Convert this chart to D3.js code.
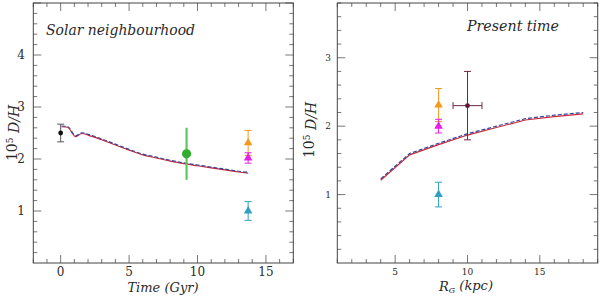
<!DOCTYPE html>
<html>
<head>
<meta charset="utf-8">
<script src="https://cdn.jsdelivr.net/npm/d3@7"></script>
<style>
  body { margin: 0; background: #fff; }
  svg { display: block; }
  text { font-family: "DejaVu Serif", serif; fill: #2a2a2a; }
  .frame { fill: none; stroke: #444; stroke-width: 1; }
  .tick-line { stroke: #777; stroke-width: 1; }
</style>
</head>
<body>
<div id="chart"></div>
<script>
const WIDTH = 600;
const HEIGHT = 296;

// left panel: solar neighbourhood, D/H vs time
const timeModelT = [0.07, 0.5, 1.1, 1.55, 2, 3, 4, 5, 6, 7, 8, 9, 10, 11, 12, 13, 13.7];
const timeModelRed = [2.62, 2.61, 2.43, 2.49, 2.46, 2.37, 2.27, 2.17, 2.08, 2.02, 1.96, 1.91, 1.87, 1.83, 1.79, 1.75, 1.73];
const timeModelBlue = [2.635, 2.625, 2.445, 2.505, 2.475, 2.385, 2.285, 2.185, 2.095, 2.035, 1.975, 1.925, 1.885, 1.845, 1.805, 1.765, 1.745];

const solarObs = [
    { x: 0, y: 2.5, err: 0.17, color: "#111", bar: "#555", shape: "dot", caps: true },
    { x: 9.2, y: 2.1, err: 0.5, color: "#2fae2f", bar: "#5cc85c", shape: "circle", caps: false },
    { x: 13.7, y: 2.31, err: 0.24, color: "#f39a1e", bar: "#f39a1e", shape: "tri", caps: true },
    { x: 13.7, y: 2.02, err: 0.1, color: "#e81ee8", bar: "#e81ee8", shape: "tri", caps: true },
    { x: 13.7, y: 1.0, err: 0.18, color: "#2fa0c4", bar: "#2fa0c4", shape: "tri", caps: true }
];

// right panel: present time, D/H vs galactocentric radius
const radiusModelR = [4, 6, 8, 10, 12, 14, 16, 18];
const radiusModelRed = [1.21, 1.58, 1.73, 1.87, 1.98, 2.09, 2.14, 2.18];
const radiusModelBlue = [1.23, 1.60, 1.75, 1.89, 2.00, 2.11, 2.16, 2.20];

const presentObs = [
    { x: 8, y: 2.31, err: 0.24, color: "#f39a1e", bar: "#f39a1e", shape: "tri", caps: true },
    { x: 8, y: 2.0, err: 0.1, color: "#e81ee8", bar: "#e81ee8", shape: "tri", caps: true },
    { x: 8, y: 1.0, err: 0.18, color: "#2fa0c4", bar: "#2fa0c4", shape: "tri", caps: true },
    { x: 10, y: 2.3, err: 0.5, xerr: 1, color: "#5a1838", bar: "#6a2848", shape: "dot", caps: true }
];

const svg = d3.select("#chart").append("svg")
    .attr("width", WIDTH)
    .attr("height", HEIGHT);

function drawPanel(opt) {

    let x = d3.scaleLinear().domain(opt.xDomain).range([opt.left, opt.right]);
    let y = d3.scaleLinear().domain(opt.yDomain).range([opt.bottom, opt.top]);
    let g = svg.append("g");

    // ticks on all four sides, pointing inwards
    let xMinor = d3.range(Math.ceil(opt.xDomain[0]), opt.xDomain[1] + 0.001, 1);
    let yMinor = d3.range(0.2, opt.yDomain[1] + 0.001, 0.2);
    let isMajorX = v => Math.abs(v % 5) < 1e-6;
    let isMajorY = v => Math.abs(v - Math.round(v)) < 1e-6;

    xMinor.forEach(v => {
        let len = isMajorX(v) ? 8 : 4;
        g.append("line").attr("class", "tick-line")
            .attr("x1", x(v)).attr("x2", x(v))
            .attr("y1", opt.bottom).attr("y2", opt.bottom - len);
        g.append("line").attr("class", "tick-line")
            .attr("x1", x(v)).attr("x2", x(v))
            .attr("y1", opt.top).attr("y2", opt.top + len);
    });

    yMinor.forEach(v => {
        let len = isMajorY(v) ? 8 : 4;
        g.append("line").attr("class", "tick-line")
            .attr("x1", opt.left).attr("x2", opt.left + len)
            .attr("y1", y(v)).attr("y2", y(v));
        g.append("line").attr("class", "tick-line")
            .attr("x1", opt.right).attr("x2", opt.right - len)
            .attr("y1", y(v)).attr("y2", y(v));
    });

    g.append("rect").attr("class", "frame")
        .attr("x", opt.left).attr("y", opt.top)
        .attr("width", opt.right - opt.left)
        .attr("height", opt.bottom - opt.top);

    // tick labels
    g.selectAll(".xlab").data(opt.xLabels).enter().append("text")
        .attr("x", d => x(d))
        .attr("y", opt.xLabelY)
        .attr("text-anchor", "middle")
        .style("font-size", opt.tickFont + "px")
        .text(d => d);

    g.selectAll(".ylab").data(opt.yLabels).enter().append("text")
        .attr("x", opt.yLabelX)
        .attr("y", d => y(d))
        .attr("dy", "0.36em")
        .attr("text-anchor", "end")
        .style("font-size", opt.tickFont + "px")
        .text(d => d);

    // model lines
    let line = d3.line().x(d => x(d[0])).y(d => y(d[1]))
        .curve(opt.curve || d3.curveLinear);

    g.append("path")
        .datum(opt.modelX.map((v, i) => [v, opt.modelRed[i]]))
        .attr("d", line)
        .attr("fill", "none")
        .attr("stroke", "#c8283a")
        .attr("stroke-width", 1.2);

    g.append("path")
        .datum(opt.modelX.map((v, i) => [v, opt.modelBlue[i]]))
        .attr("d", line)
        .attr("fill", "none")
        .attr("stroke", "#34479a")
        .attr("stroke-width", 1.2)
        .attr("stroke-dasharray", "4,2");

    // observations with error bars
    opt.obs.forEach(d => {
        let cx = x(d.x), cy = y(d.y);
        let y0 = y(d.y - d.err), y1 = y(d.y + d.err);
        let o = g.append("g");

        o.append("line")
            .attr("x1", cx).attr("x2", cx).attr("y1", y0).attr("y2", y1)
            .attr("stroke", d.bar)
            .attr("stroke-width", d.shape === "circle" ? 2.2 : 1);

        if (d.caps) {
            [y0, y1].forEach(yy => o.append("line")
                .attr("x1", cx - 3.5).attr("x2", cx + 3.5)
                .attr("y1", yy).attr("y2", yy)
                .attr("stroke", d.bar).attr("stroke-width", 1));
        }

        if (d.xerr) {
            let x0 = x(d.x - d.xerr), x1 = x(d.x + d.xerr);
            o.append("line")
                .attr("x1", x0).attr("x2", x1).attr("y1", cy).attr("y2", cy)
                .attr("stroke", d.bar).attr("stroke-width", 1);
            [x0, x1].forEach(xx => o.append("line")
                .attr("x1", xx).attr("x2", xx)
                .attr("y1", cy - 3.5).attr("y2", cy + 3.5)
                .attr("stroke", d.bar).attr("stroke-width", 1));
        }

        if (d.shape === "tri") {
            o.append("path")
                .attr("d", d3.symbol().type(d3.symbolTriangle).size(32))
                .attr("transform", "translate(" + cx + "," + cy + ")")
                .attr("fill", d.color);
        } else {
            o.append("circle")
                .attr("cx", cx).attr("cy", cy)
                .attr("r", d.shape === "circle" ? 4.6 : 2.4)
                .attr("fill", d.color);
        }
    });

    // y axis title
    let yt = g.append("text")
        .attr("transform", "translate(" + opt.yTitleX + "," + opt.yTitleY + ") rotate(-90)")
        .attr("text-anchor", "middle")
        .style("font-size", "14px");
    yt.append("tspan").text("10");
    yt.append("tspan").attr("dy", "-0.45em").style("font-size", "9px").text("5");
    yt.append("tspan").attr("dy", "0.45em").style("font-style", "italic").text(" D/H");

    return { x: x, y: y, g: g };
}

let left = drawPanel({
    left: 33.3, right: 293.3, top: 3, bottom: 263,
    xDomain: [-2, 17], yDomain: [0, 5],
    xLabels: [0, 5, 10, 15], yLabels: [1, 2, 3, 4],
    tickFont: 12, xLabelY: 276, yLabelX: 25,
    modelX: timeModelT, modelRed: timeModelRed, modelBlue: timeModelBlue,
    curve: d3.curveMonotoneX,
    obs: solarObs,
    yTitleX: 17, yTitleY: 133
});

left.g.append("text")
    .attr("x", 46).attr("y", 35)
    .style("font-size", "14px").style("font-style", "italic")
    .attr("textLength", 149).attr("lengthAdjust", "spacingAndGlyphs")
    .text("Solar neighbourhood");

left.g.append("text")
    .attr("x", 163).attr("y", 292)
    .attr("text-anchor", "middle")
    .style("font-size", "13px").style("font-style", "italic")
    .text("Time (Gyr)");

let right = drawPanel({
    left: 337.3, right: 597.7, top: 3, bottom: 263,
    xDomain: [1, 19], yDomain: [0, 3.8],
    xLabels: [5, 10, 15], yLabels: [1, 2, 3],
    tickFont: 9, xLabelY: 275, yLabelX: 331,
    modelX: radiusModelR, modelRed: radiusModelRed, modelBlue: radiusModelBlue,
    obs: presentObs,
    yTitleX: 314, yTitleY: 130
});

right.g.append("text")
    .attr("x", 467).attr("y", 31)
    .style("font-size", "14px").style("font-style", "italic")
    .attr("textLength", 92).attr("lengthAdjust", "spacingAndGlyphs")
    .text("Present time");

let rt = right.g.append("text")
    .attr("x", 466).attr("y", 291)
    .attr("text-anchor", "middle")
    .style("font-size", "13px").style("font-style", "italic");
rt.append("tspan").text("R");
rt.append("tspan").attr("dy", "0.3em").style("font-size", "8px").text("G");
rt.append("tspan").attr("dy", "-0.3em").text(" (kpc)");
</script>
</body>
</html>
